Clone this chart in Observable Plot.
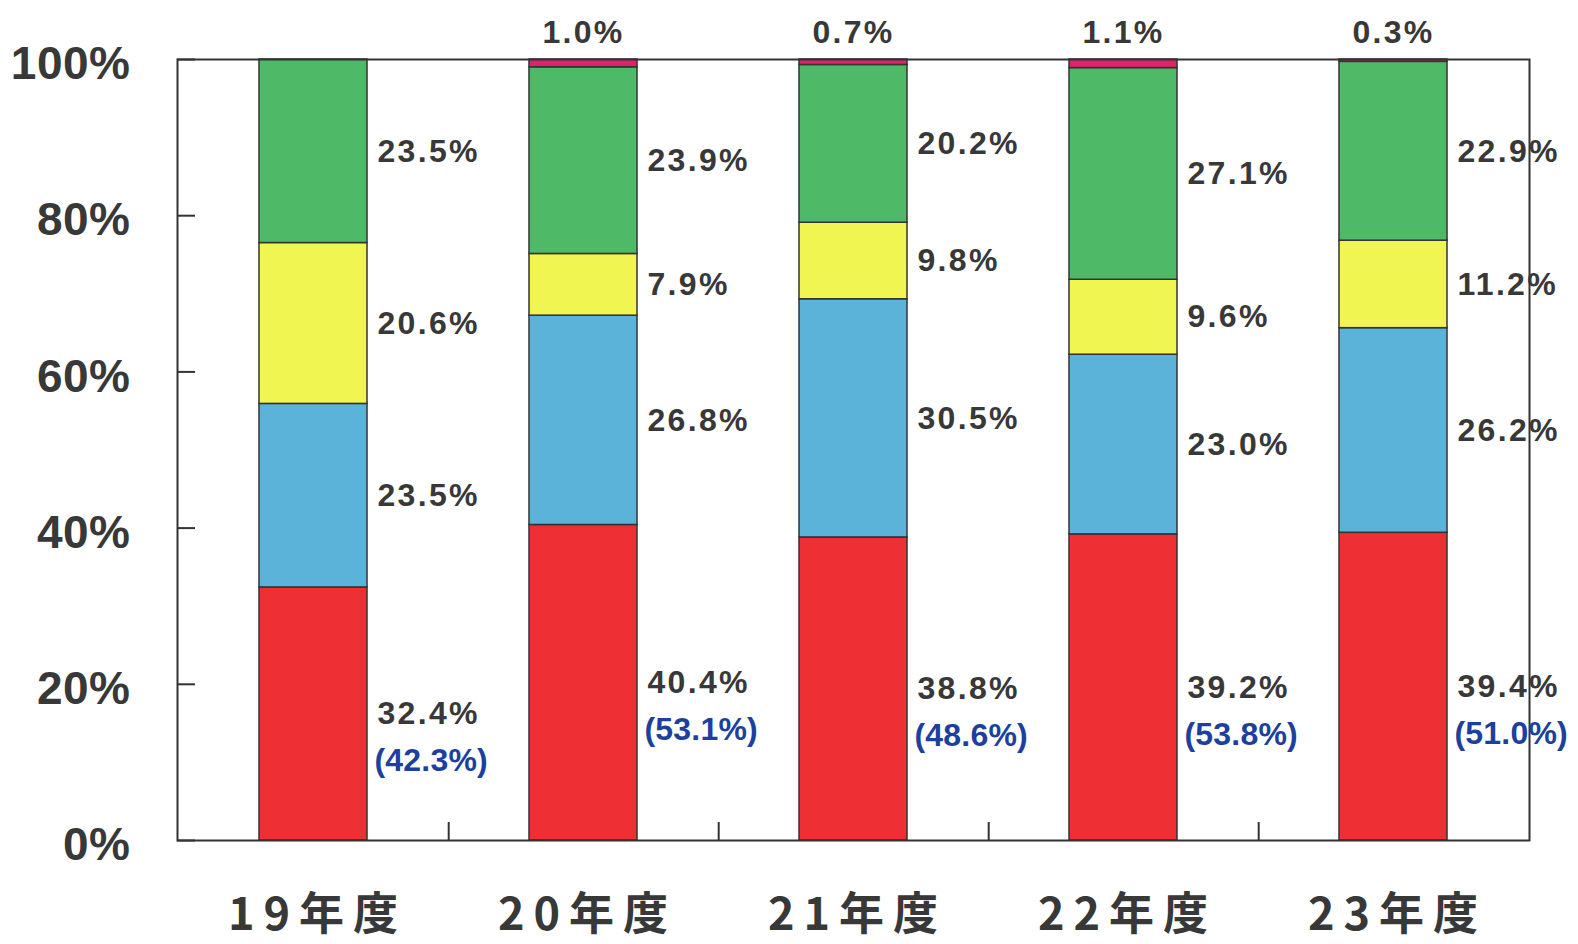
<!DOCTYPE html>
<html>
<head>
<meta charset="utf-8">
<script src="https://cdn.jsdelivr.net/npm/d3@7"></script>
<script src="https://cdn.jsdelivr.net/npm/@observablehq/plot@0.6"></script>
<style>
  html, body { margin: 0; padding: 0; background: #fff; }
  #chart svg { display: block; }
  #chart g[aria-label="text"] text { letter-spacing: 2.3px; }
  #chart g[fill="#1d3f9e"] text { letter-spacing: 0.2px; }
  #chart g[aria-label="x-axis tick label"] text { letter-spacing: 9px; }
  #chart g[aria-label="y-axis tick label"] text { letter-spacing: 0.5px; }
</style>
</head>
<body>
<div id="chart"></div>
<script>
const years = ["19年度", "20年度", "21年度", "22年度", "23年度"];
const seriesNames = ["s_red", "s_blue", "s_yellow", "s_green", "s_magenta"];
const seriesColors = ["#ee2f34", "#5cb3d9", "#f1f552", "#4eb967", "#e3216b"];
const redValues = [32.4, 40.4, 38.8, 39.2, 39.4];
const blueValues = [23.5, 26.8, 30.5, 23.0, 26.2];
const yellowValues = [20.6, 7.9, 9.8, 9.6, 11.2];
const greenValues = [23.5, 23.9, 20.2, 27.1, 22.9];
const magentaValues = [0, 1.0, 0.7, 1.1, 0.3];
const redShareLabels = ["(42.3%)", "(53.1%)", "(48.6%)", "(53.8%)", "(51.0%)"];
const yTicks = [0, 20, 40, 60, 80, 100];

const W = 1578, H = 944;
const mL = 177, mR = 49, mT = 59, mB = 104;
const innerW = W - mL - mR;
const step = innerW / years.length;

const valuesBySeries = [redValues, blueValues, yellowValues, greenValues, magentaValues];
const rows = [];
years.forEach((yr, i) => {
  seriesNames.forEach((s, j) => {
    rows.push({year: yr, seg: s, value: valuesBySeries[j][i], share: redShareLabels[i]});
  });
});
const barRows = rows.filter(d => d.value > 0);
const sideRows = rows.filter(d => d.seg !== "s_magenta");
const redRows = rows.filter(d => d.seg === "s_red");
const topRows = rows.filter(d => d.seg === "s_magenta" && d.value > 0);

const numFont = "'Liberation Sans', Arial, sans-serif";
const textColor = "#383838";

const chart = Plot.plot({
  width: W,
  height: H,
  marginLeft: mL,
  marginRight: mR,
  marginTop: mT,
  marginBottom: mB,
  style: {fontFamily: numFont, background: "#fff"},
  x: {domain: years, paddingInner: 0.6, paddingOuter: 0.3, axis: null, label: null},
  y: {domain: [0, 100], axis: null, label: null},
  color: {domain: seriesNames, range: seriesColors},
  marks: [
    Plot.barY(barRows, {x: "year", y: "value", fill: "seg", stroke: "#333", strokeWidth: 1.5, order: seriesNames}),
    Plot.frame({stroke: "#333", strokeWidth: 2}),
    Plot.tickY(yTicks, {y: d => d, insetRight: innerW - 18, stroke: "#333", strokeWidth: 2}),
    Plot.ruleX(years.slice(0, -1), {x: d => d, dx: step / 2, y1: 0, y2: 2.3, stroke: "#333", strokeWidth: 2}),
    Plot.axisY({ticks: yTicks, tickSize: 0, tickPadding: 47, label: null, tickFormat: d => d + "%", fontSize: 46, fontWeight: "bold", fill: textColor, dy: 5}),
    Plot.axisX({tickSize: 0, tickPadding: 58, label: null, fontSize: 45, fontWeight: "bold", fill: textColor,
      fontFamily: "'Noto Sans CJK JP', sans-serif", dx: 4}),
    Plot.text(sideRows, Plot.stackY({x: "year", y: "value", z: "seg", order: seriesNames,
      text: d => d.value.toFixed(1) + "%", textAnchor: "start", dx: 64, fontSize: 32, fontWeight: "bold", fill: textColor})),
    Plot.text(redRows, Plot.stackY({x: "year", y: "value", z: "seg",
      text: "share", textAnchor: "start", dx: 61, dy: 47, fontSize: 32, fontWeight: "bold", fill: "#1d3f9e"})),
    Plot.text(topRows, {x: "year", y: () => 100, text: d => d.value.toFixed(1) + "%", dy: -27, fontSize: 32, fontWeight: "bold", fill: textColor})
  ]
});
document.getElementById("chart").appendChild(chart);
</script>
</body>
</html>
